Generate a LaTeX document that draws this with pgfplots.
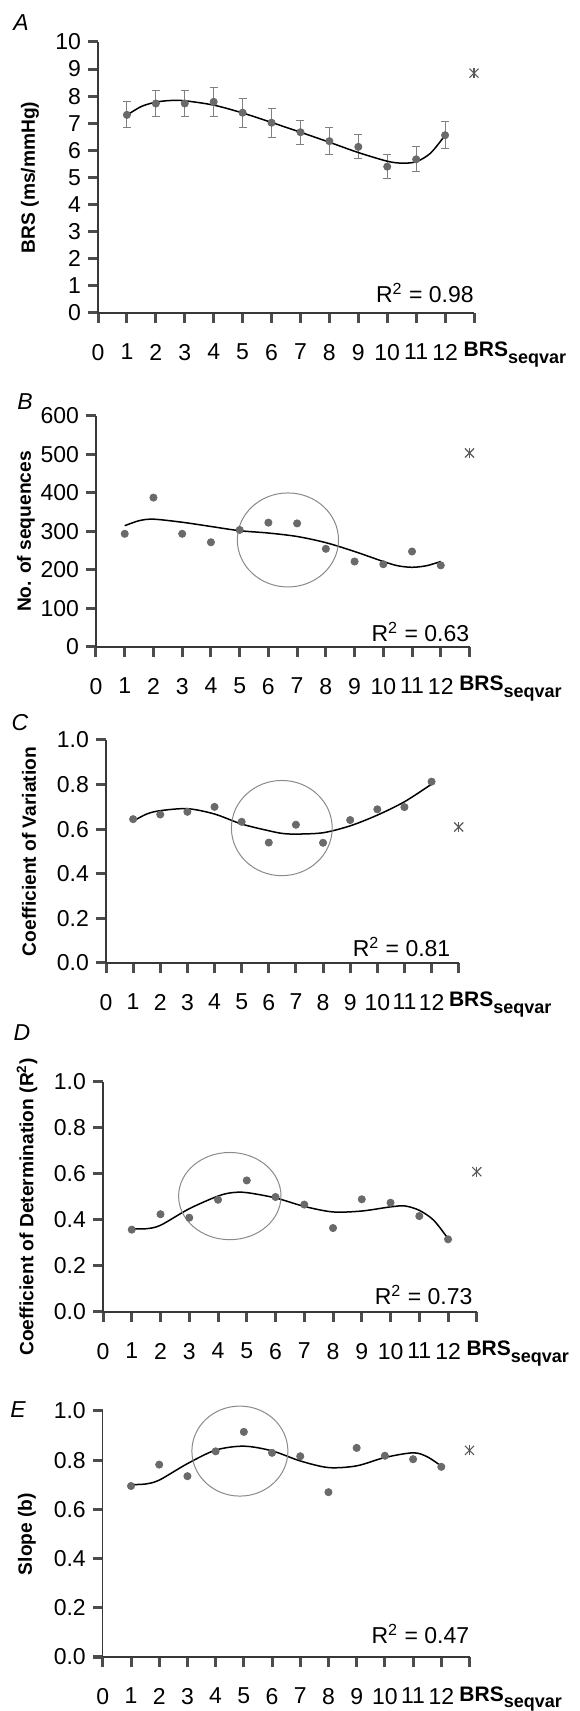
\documentclass[border=0pt]{standalone}
\usepackage{fontspec}
\setmainfont{Liberation Sans}
\usepackage{pgfplots}
\pgfplotsset{compat=1.18}

\definecolor{dotgray}{HTML}{6A6A6A}
\definecolor{ringgray}{HTML}{8A8A8A}
\definecolor{tickc}{HTML}{383838}

\pgfplotsset{
  panel/.style={
    scale only axis, anchor=south west, clip=false,
    axis x line*=bottom, axis y line*=left,
    axis line style={-, tickc, line width=0.6pt},
    xmin=0, xmax=13, xtick={0,...,13},
    xticklabels={0,1,2,3,4,5,6,7,8,9,10,11,12,{}},
    xtick align=outside, ytick align=outside, tickwidth=5pt,
    ymin=0,
    tick label style={font=\fontsize{11.5}{12}\selectfont},
    /pgf/number format/assume math mode=true,
    xticklabel style={yshift=-7pt},
    every axis y label/.style={at={(rel axis cs:0,0.5)}, rotate=90, anchor=center,
      font=\bfseries\fontsize{9.6}{11}\selectfont},
  },
  decimals/.style={yticklabel style={/pgf/number format/.cd, fixed, fixed zerofill, precision=1}},
  dots/.style={only marks, mark=*, mark size=1.8pt, color=dotgray},
  trend/.style={black, line width=0.75pt, smooth, no marks},
  star/.style={only marks, color=black!65, mark size=3.2pt, mark options={line width=0.6pt}},
}
\tikzset{
  brs/.style={anchor=base west, inner sep=0, font=\fontsize{10.5}{12}\selectfont, yshift=-22pt},
  rsq/.style={anchor=base east, inner sep=0, font=\fontsize{11.5}{12}\selectfont},
}
\newcommand{\brslabel}{\textbf{BRS}\raisebox{-0.3em}{\fontsize{9}{9}\selectfont\bfseries seqvar}}
\newcommand{\rsq}[1]{R\textsuperscript{2} = #1}

\begin{document}
\begin{tikzpicture}

% ---------- A
\begin{axis}[panel, at={(49pt,699pt)}, width=188pt, height=135.5pt,
  every tick/.style={black!70, line width=1.5pt},
  ymax=10, ytick={0,...,10},
  ylabel={BRS (ms/mmHg)},
  every axis y label/.append style={yshift=34pt}]
\addplot[dots, error bars/.cd, y dir=both, y explicit,
  error bar style={black!50, line width=0.5pt},
  error mark options={rotate=90, mark size=2pt, black!50, line width=0.5pt}]
  table[x=x, y=y, y error=e] {
x  y    e
1  7.31 0.48
2  7.73 0.47
3  7.73 0.48
4  7.79 0.53
5  7.39 0.53
6  7.02 0.53
7  6.67 0.45
8  6.34 0.49
9  6.13 0.44
10 5.40 0.44
11 5.67 0.46
12 6.56 0.50
};
\addplot[trend] coordinates {(1,7.30)(1.5,7.62)(2,7.78)(2.5,7.84)(3,7.83)(4,7.67)(5,7.38)(6,7.03)(7,6.67)(8,6.30)(9,5.92)(10,5.60)(10.5,5.53)(11,5.58)(11.5,5.90)(12,6.56)};
\addplot[star, mark=x] coordinates {(13,8.85)};
\addplot[star, mark=|, mark size=2.5pt] coordinates {(13,8.85)};
\node[rsq] at (axis cs:13,0) [yshift=5pt] {\rsq{0.98}};
\node[brs] at (axis cs:12.63,0) {\brslabel};
\end{axis}

% ---------- B
\begin{axis}[panel, at={(48pt,532pt)}, width=186.75pt, height=115.5pt,
  every tick/.style={black!70, line width=1.5pt},
  ymax=600, ytick={0,100,...,600},
  ylabel={No. of sequences},
  every axis y label/.append style={yshift=35pt}]
\addplot[dots] coordinates {(1,294)(2,388)(3,294)(4,272)(5,304)(6,323)(7,321)(8,255)(9,222)(10,215)(11,248)(12,212)};
\addplot[trend] coordinates {(1,315)(1.5,328)(2,332)(3,324)(4,313)(5,302)(6,296)(7,287)(8,271)(9,248)(10,222)(10.5,211)(11,207)(11.5,211)(12,222)};
\addplot[star, mark=x] coordinates {(13,504)};
\addplot[star, mark=|, mark size=2.5pt] coordinates {(13,504)};
\draw[ringgray, line width=0.5pt] (axis cs:6.68,278) ellipse [x radius=25.3pt, y radius=23.5pt];
\node[rsq] at (axis cs:13,0) [yshift=2.5pt] {\rsq{0.63}};
\node[brs] at (axis cs:12.63,0) {\brslabel};
\end{axis}

% ---------- C
\begin{axis}[panel, decimals, at={(53pt,374pt)}, width=176.35pt, height=111.5pt,
  every tick/.style={black!70, line width=1.5pt},
  ymax=1, ytick={0,0.2,...,1.0},
  ylabel={Coefficient of Variation},
  every axis y label/.append style={yshift=38.5pt}]
\addplot[dots] coordinates {(1,0.645)(2,0.666)(3,0.678)(4,0.700)(5,0.633)(6,0.540)(7,0.620)(8,0.539)(9,0.641)(10,0.689)(11,0.699)(12,0.813)};
\addplot[trend] coordinates {(1,0.636)(1.5,0.668)(2,0.683)(3,0.692)(4,0.668)(5,0.623)(6,0.593)(6.5,0.581)(7,0.578)(8,0.584)(9,0.615)(10,0.663)(11,0.723)(12,0.802)};
\addplot[star, mark=x] coordinates {(13,0.61)};
\addplot[star, mark=|, mark size=2.5pt] coordinates {(13,0.61)};
\draw[ringgray, line width=0.5pt] (axis cs:6.48,0.605) ellipse [x radius=25.2pt, y radius=23.8pt];
\node[rsq] at (axis cs:13,0) [xshift=-4pt, yshift=3pt] {\rsq{0.81}};
\node[brs] at (axis cs:12.63,0) {\brslabel};
\end{axis}

% ---------- D
\begin{axis}[panel, decimals, at={(51.5pt,199.5pt)}, width=186.9pt, height=115pt,
  every tick/.style={black!70, line width=1.5pt},
  ymax=1, ytick={0,0.2,...,1.0},
  ylabel={Coefficient of Determination (R\textsuperscript{2})},
  every axis y label/.append style={yshift=38pt, xshift=-5pt}]
\addplot[dots] coordinates {(1,0.358)(2,0.425)(3,0.410)(4,0.488)(5,0.572)(6,0.500)(7,0.467)(8,0.365)(9,0.490)(10,0.475)(11,0.417)(12,0.316)};
\addplot[trend] coordinates {(1,0.362)(1.5,0.362)(2,0.377)(3,0.449)(4,0.504)(4.5,0.519)(5,0.519)(6,0.496)(7,0.459)(8,0.435)(9,0.439)(10,0.457)(10.5,0.461)(11,0.442)(11.5,0.399)(12,0.319)};
\addplot[star, mark=x] coordinates {(13,0.61)};
\addplot[star, mark=|, mark size=2.5pt] coordinates {(13,0.61)};
\draw[ringgray, line width=0.5pt] (axis cs:4.41,0.504) ellipse [x radius=25.6pt, y radius=21.8pt];
\node[rsq] at (axis cs:13,0) [xshift=-2pt, yshift=3.5pt] {\rsq{0.73}};
\node[brs] at (axis cs:12.63,0) {\brslabel};
\end{axis}

% ---------- E
\begin{axis}[panel, decimals, at={(51.4pt,27pt)}, width=183.35pt, height=123pt,
  every tick/.style={black!70, line width=1.5pt},
  ymax=1, ytick={0,0.2,...,1.0},
  ylabel={Slope (b)},
  every axis y label/.append style={yshift=38pt}]
\addplot[dots] coordinates {(1,0.695)(2,0.782)(3,0.735)(4,0.836)(5,0.915)(6,0.830)(7,0.816)(8,0.670)(9,0.850)(10,0.818)(11,0.804)(12,0.773)};
\addplot[trend] coordinates {(1,0.701)(1.5,0.703)(2,0.719)(3,0.786)(4,0.841)(5,0.857)(6,0.838)(7,0.797)(8,0.770)(9,0.777)(10,0.811)(11,0.830)(11.5,0.814)(12,0.776)};
\addplot[star, mark=x] coordinates {(13,0.84)};
\addplot[star, mark=|, mark size=2.5pt] coordinates {(13,0.84)};
\draw[ringgray, line width=0.5pt] (axis cs:4.86,0.837) ellipse [x radius=24pt, y radius=22.5pt];
\node[rsq] at (axis cs:13,0) [yshift=6.5pt] {\rsq{0.47}};
\node[brs] at (axis cs:12.63,0) {\brslabel};
\end{axis}

% panel letters
\begin{scope}[every node/.style={font=\itshape\fontsize{11.5}{13}\selectfont, inner sep=0}]
\node at (10.5pt,844pt) {A};
\node at (12.5pt,654.5pt) {B};
\node at (10pt,494pt) {C};
\node at (11pt,339pt) {D};
\node at (9pt,150.5pt) {E};
\end{scope}

\pgfresetboundingbox
\path (0,0) rectangle (289.5pt,855.5pt);
\end{tikzpicture}
\end{document}
